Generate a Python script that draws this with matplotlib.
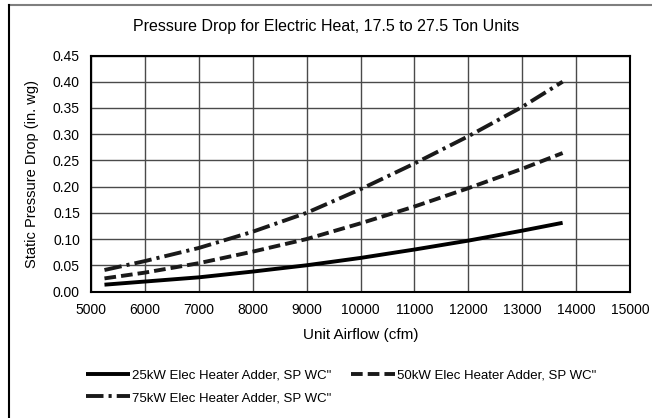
import matplotlib
matplotlib.use("Agg")
import matplotlib.pyplot as plt
from matplotlib.lines import Line2D

plt.rcParams["font.family"] = ["Liberation Sans", "DejaVu Sans"]

# Airflow (cfm) and static pressure drop (in. wg) per heater size
airflow = [5250, 6000, 7000, 8000, 9000, 10000, 11000, 12000, 13000, 13750]
sp_25kw = [0.013, 0.019, 0.027, 0.038, 0.050, 0.064, 0.080, 0.097, 0.116, 0.131]
sp_50kw = [0.025, 0.036, 0.054, 0.076, 0.100, 0.130, 0.162, 0.197, 0.234, 0.264]
sp_75kw = [0.041, 0.058, 0.083, 0.114, 0.150, 0.195, 0.244, 0.296, 0.352, 0.400]

labels = ['25kW Elec Heater Adder, SP WC"',
          '50kW Elec Heater Adder, SP WC"',
          '75kW Elec Heater Adder, SP WC"']

x_ticks = list(range(5000, 15001, 1000))
y_ticks = [0.00, 0.05, 0.10, 0.15, 0.20, 0.25, 0.30, 0.35, 0.40, 0.45]

W, H = 652, 418
fig = plt.figure(figsize=(W / 100, H / 100), dpi=100)
ax = fig.add_axes([91 / W, 1 - 291.5 / H, (630 - 91) / W, (291.5 - 55.5) / H])

lw = 2.8
l1, = ax.plot(airflow, sp_25kw, color="black", lw=lw, solid_capstyle="butt")
l2, = ax.plot(airflow, sp_50kw, color="#1a1a1a", lw=lw, linestyle=(0, (3.0, 1.3)),
              dash_capstyle="butt")
l3, = ax.plot(airflow, sp_75kw, color="#1a1a1a", lw=lw,
              linestyle=(0, (4.5, 1.3, 0.8, 1.3)), dash_capstyle="butt")

ax.set_xlim(5000, 15000)
ax.set_ylim(0, 0.45)
ax.set_xticks(x_ticks)
ax.set_yticks(y_ticks)
ax.set_xticklabels([str(v) for v in x_ticks])
ax.set_yticklabels([f"{v:.2f}" for v in y_ticks])
ax.tick_params(length=0, labelsize=10, pad=8, colors="black")
ax.grid(True, color="#4a4a4a", lw=1.0)
ax.set_axisbelow(True)
for s in ax.spines.values():
    s.set_linewidth(1.5)
    s.set_color("black")

ax.set_xlabel("Unit Airflow (cfm)", fontsize=11, labelpad=8)
ax.set_ylabel("Static Pressure Drop (in. wg)", fontsize=10.5, labelpad=10)

fig.text(0.5, 1 - 27 / H, "Pressure Drop for Electric Heat, 17.5 to 27.5 Ton Units",
         ha="center", va="center", fontsize=11.5)

# Legend laid out row by row: 25kW and 50kW on the first row, 75kW below
fig.legend([l1, l3, l2], [labels[0], labels[2], labels[1]], ncol=2,
           loc="upper left", bbox_to_anchor=(86 / W, 1 - 369 / H),
           frameon=False, fontsize=9.5, handlelength=3.3, handletextpad=0.2,
           columnspacing=1.5, labelspacing=0.8, borderpad=0, borderaxespad=0)

# Outer frame of the figure
fig.add_artist(Line2D([9 / W, 1], [1 - 5 / H, 1 - 5 / H], transform=fig.transFigure,
                      color="#7f7f7f", lw=1.5))
fig.add_artist(Line2D([9 / W, 9 / W], [0, 1 - 5 / H], transform=fig.transFigure,
                      color="black", lw=1.5))

fig.savefig("out.png", dpi=100)
